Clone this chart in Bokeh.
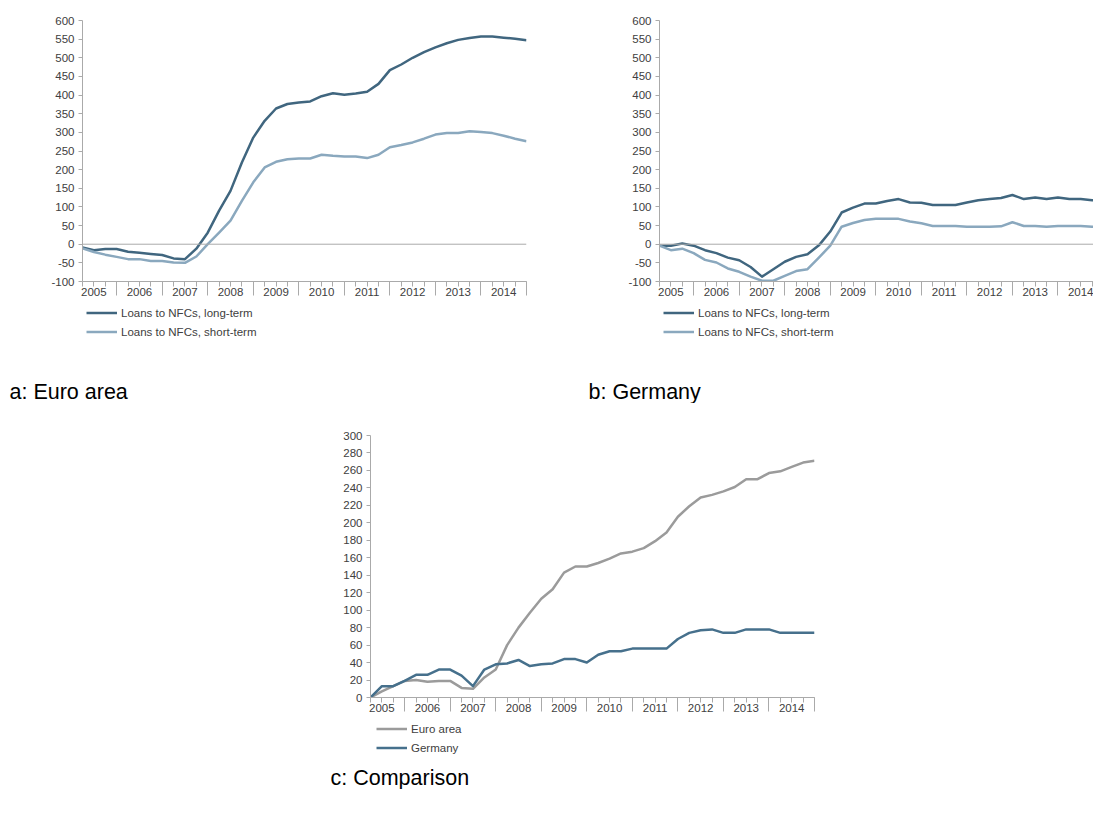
from bokeh.plotting import figure
from bokeh.models import (FixedTicker, LinearAxis, Legend, LegendItem, Span, Title,
                          Spacer, Range1d, SingleIntervalTicker)
from bokeh.layouts import column, row
from bokeh.embed import file_html
from bokeh.resources import INLINE

# ---------------- data (quarterly, 2005Q1 .. 2014Q4) ----------------
years = ["2005", "2006", "2007", "2008", "2009", "2010", "2011", "2012", "2013", "2014"]
quarters = [f"{y}Q{q}" for y in years for q in range(1, 5)]

ea_long = [-9, -16, -13, -13, -20, -23, -26, -29, -38, -40,
           -12, 31, 90, 143, 219, 286, 331, 364, 376, 380,
           383, 397, 405, 401, 404, 409, 430, 467, 482, 500,
           515, 528, 539, 548, 553, 557, 557, 554, 551, 547]
ea_short = [-11, -21, -28, -34, -40, -40, -45, -45, -49, -50,
            -33, 0, 31, 63, 116, 166, 206, 221, 228, 230,
            230, 240, 237, 235, 235, 231, 240, 260, 266, 273,
            283, 294, 298, 298, 303, 301, 298, 291, 283, 276]
de_long = [-4, -4, 2, -4, -16, -24, -36, -43, -61, -87,
           -67, -47, -34, -27, -3, 34, 85, 98, 109, 109,
           116, 121, 112, 111, 105, 105, 105, 112, 118, 121,
           124, 132, 121, 125, 121, 125, 121, 121, 118, 116]
de_short = [-4, -16, -12, -24, -42, -49, -65, -74, -87, -98,
            -98, -85, -72, -67, -36, -4, 47, 57, 65, 68,
            68, 68, 61, 56, 49, 49, 49, 47, 47, 47,
            48, 59, 49, 49, 47, 49, 49, 49, 47, 45]
cmp_ea = [0, 7, 13, 19, 20, 18, 19, 19, 11, 10,
          23, 32, 60, 80, 97, 113, 124, 143, 150, 150,
          154, 159, 165, 167, 171, 179, 189, 207, 219, 229,
          232, 236, 241, 250, 250, 257, 259, 264, 269, 271]
cmp_de = [0, 13, 13, 19, 26, 26, 32, 32, 25, 13,
          32, 38, 39, 43, 36, 38, 39, 44, 44, 40,
          49, 53, 53, 56, 56, 56, 56, 67, 74, 77,
          78, 74, 74, 78, 78, 78, 74, 74, 74, 74]

labels_ab = ["Loans to NFCs, long-term", "Loans to NFCs, short-term"]
labels_c = ["Euro area", "Germany"]
captions = ["a: Euro area", "b: Germany", "c: Comparison"]
neg_tick_labels = {-100: "-100", -50: "-50"}

# ---------------- styling ----------------
FONT = "Liberation Sans"
DARK = "#40667f"
LIGHT = "#8aa8be"
GREY = "#9b9b9b"
GER = "#46708c"
AXIS = "#aaaaaa"
TXT = "#404040"
LW = 2.5

xs = list(range(len(quarters)))
label_pos = [4 * k + 1 for k in range(len(years))]
sep_pos = [4 * k + 3 for k in range(len(years))]


def chart(series, colors, ymin, ymax, ystep, xend, fw, fh, bl, br, bt, bb, zero_line):
    p = figure(frame_width=fw, frame_height=fh,
               x_range=Range1d(0, xend), y_range=Range1d(ymin, ymax),
               output_backend="svg", toolbar_location=None,
               min_border_left=bl, min_border_right=br,
               min_border_top=bt, min_border_bottom=bb)
    p.xgrid.visible = False
    p.ygrid.visible = False
    p.outline_line_color = None

    ya = p.yaxis[0]
    ya.ticker = SingleIntervalTicker(interval=ystep, num_minor_ticks=0)
    ya.major_label_overrides = neg_tick_labels
    ya.axis_line_color = AXIS
    ya.major_tick_line_color = AXIS
    ya.major_tick_out = 4
    ya.major_tick_in = 0
    ya.minor_tick_line_color = None
    ya.major_label_standoff = 4
    ya.major_label_text_font = FONT
    ya.major_label_text_font_size = "11.5px"
    ya.major_label_text_color = TXT

    # x axis 1: long ticks between years, short ticks at every quarter
    xa = p.xaxis[0]
    xa.ticker = FixedTicker(ticks=sep_pos, minor_ticks=xs)
    xa.major_label_overrides = {s: "" for s in sep_pos}
    xa.major_label_text_font_size = "1px"
    xa.major_label_standoff = 0
    xa.axis_line_color = AXIS
    xa.major_tick_line_color = AXIS
    xa.minor_tick_line_color = AXIS
    xa.major_tick_out = 14
    xa.major_tick_in = 0
    xa.minor_tick_out = 5
    xa.minor_tick_in = 0

    # x axis 2: the year labels, centred on each year
    lab_axis = LinearAxis(ticker=FixedTicker(ticks=label_pos, minor_ticks=[]),
                          major_label_overrides={pos: yr for pos, yr in zip(label_pos, years)},
                          axis_line_color=None, major_tick_line_color=None,
                          minor_tick_line_color=None, major_tick_out=0, major_tick_in=0,
                          minor_tick_out=0, minor_tick_in=0,
                          major_label_standoff=-8,
                          major_label_text_font=FONT, major_label_text_font_size="11.5px",
                          major_label_text_color=TXT)
    p.add_layout(lab_axis, "below")

    if zero_line:
        p.add_layout(Span(location=0, dimension="width", line_color=AXIS, line_width=1))

    for ys, c in zip(series, colors):
        p.line(xs, ys, line_color=c, line_width=LW, line_join="round")
    return p


def legend_fig(series, colors, labels, caption, fw, fh, bl, cap_offset):
    # a blank strip holding the legend (its lines lie outside the visible range)
    p = figure(frame_width=fw, frame_height=fh, x_axis_type=None, y_axis_type=None,
               x_range=Range1d(1000, 1001), y_range=Range1d(1000, 1001),
               output_backend="svg", toolbar_location=None,
               min_border_left=bl, min_border_right=0, min_border_top=0, min_border_bottom=0)
    p.xgrid.visible = False
    p.ygrid.visible = False
    p.outline_line_color = None
    items = []
    for ys, c, lab in zip(series, colors, labels):
        r = p.line(xs, ys, line_color=c, line_width=LW)
        items.append(LegendItem(label=lab, renderers=[r]))
    leg = Legend(items=items, location="top_left", orientation="vertical",
                 margin=0, padding=1, spacing=4, glyph_height=15, glyph_width=31,
                 label_height=15, label_standoff=4,
                 label_text_font=FONT, label_text_font_size="11.5px",
                 label_text_color=TXT, border_line_color=None,
                 background_fill_alpha=0)
    p.add_layout(leg)
    t = Title(text=caption, align="left", offset=cap_offset,
              text_font=FONT, text_font_size="21.5px", text_font_style="normal",
              text_color="#000000", standoff=0)
    p.add_layout(t, "below")
    return p


px_per_q = 444 / 39.0

pa = chart([ea_long, ea_short], [DARK, LIGHT], -100, 600, 50, 39,
           444, 261, 82, 34, 20, 24, True)
pb = chart([de_long, de_short], [DARK, LIGHT], -100, 600, 50, 434 / px_per_q,
           434, 261, 99, 0, 20, 24, True)
la = legend_fig([ea_long, ea_short], [DARK, LIGHT], labels_ab, captions[0], 474, 72, 86, -77)
lb = legend_fig([de_long, de_short], [DARK, LIGHT], labels_ab, captions[1], 430, 72, 103, -75)

pc = chart([cmp_ea, cmp_de], [GREY, GER], 0, 300, 20, 39,
           444, 262, 70, 20, 32, 24, False)
lc = legend_fig([cmp_ea, cmp_de], [GREY, GER], labels_c, captions[2], 458, 42, 76, -46)

layout = column(row(pa, pb), row(la, lb),
                row(Spacer(width=300, height=5), pc),
                row(Spacer(width=300, height=5), lc))

open("out.html", "w").write(file_html(layout, INLINE))
